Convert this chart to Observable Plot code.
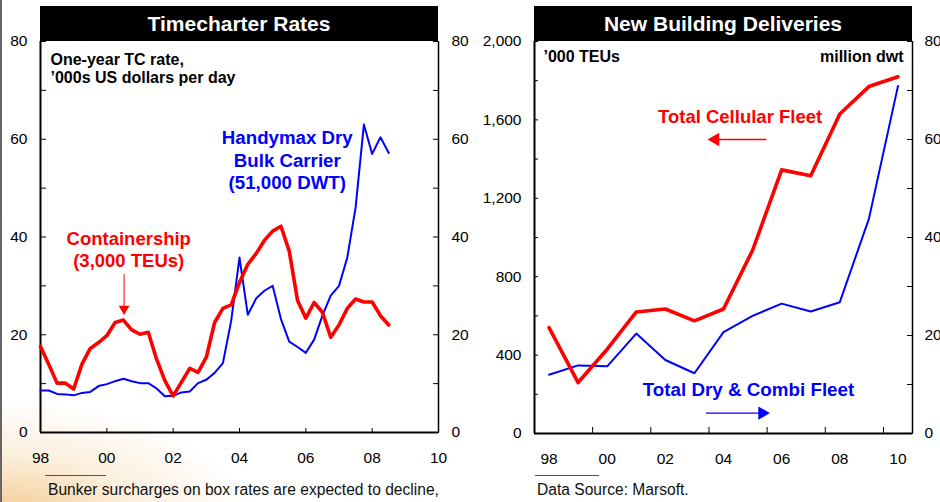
<!DOCTYPE html>
<html>
<head>
<meta charset="utf-8">
<script src="https://cdn.jsdelivr.net/npm/d3@7"></script>
<script src="https://cdn.jsdelivr.net/npm/@observablehq/plot@0.6"></script>
<style>
html, body { margin: 0; padding: 0; background: #fff; }
#wrap {
  position: relative; width: 940px; height: 502px; overflow: hidden;
  font-family: "Liberation Sans", Arial, sans-serif;
  background:
    radial-gradient(ellipse 250px 120px at 0px 520px, rgba(242,190,120,0.85), rgba(248,220,180,0.45) 55%, rgba(255,255,255,0) 100%),
    #fff;
}
.edge { position: absolute; left: 0; top: 0; width: 2px; height: 502px; background: #666; }
.panel { position: absolute; top: 0; }
.bar {
  position: absolute; top: 6px; height: 35px; background: #000; color: #fff;
  font-weight: bold; font-size: 21px; line-height: 36px; text-align: center;
}
.rule { position: absolute; top: 475px; height: 1px; background: #555; }
.foot { position: absolute; top: 481px; font-size: 15.6px; line-height: 18px; color: #111; white-space: nowrap; }
</style>
</head>
<body>
<div id="wrap">
  <div class="edge"></div>
  <div id="left" class="panel" style="left:0"></div>
  <div id="right" class="panel" style="left:470px"></div>
  <div class="bar" style="left:40px;width:398px">Timecharter Rates</div>
  <div class="bar" style="left:534px;width:378px">New Building Deliveries</div>
  <div class="rule" style="left:45px;width:61px"></div>
  <div class="rule" style="left:535px;width:64px"></div>
  <div class="foot" style="left:48px">Bunker surcharges on box rates are expected to decline,</div>
  <div class="foot" style="left:537px">Data Source: Marsoft.</div>
</div>
<script>
// ---------- Left panel data: quarterly one-year TC rates ('000 US$/day) ----------
const tcQuarters = [
  1998.00, 1998.25, 1998.50, 1998.75, 1999.00, 1999.25, 1999.50, 1999.75,
  2000.00, 2000.25, 2000.50, 2000.75, 2001.00, 2001.25, 2001.50, 2001.75,
  2002.00, 2002.25, 2002.50, 2002.75, 2003.00, 2003.25, 2003.50, 2003.75,
  2004.00, 2004.25, 2004.50, 2004.75, 2005.00, 2005.25, 2005.50, 2005.75,
  2006.00, 2006.25, 2006.50, 2006.75, 2007.00, 2007.25, 2007.50, 2007.75,
  2008.00, 2008.25, 2008.50
];
const containership = [
  17.6, 13.9, 10.1, 10.1, 8.9, 14.0, 17.2, 18.4,
  19.8, 22.5, 23.0, 21.0, 20.1, 20.5, 15.0, 10.6,
  7.5, 10.3, 13.1, 12.3, 15.4, 22.5, 25.4, 26.1,
  30.7, 34.4, 36.6, 39.3, 41.2, 42.2, 37.1, 27.0,
  23.4, 26.6, 24.6, 19.5, 22.0, 25.4, 27.3, 26.7,
  26.7, 23.9, 22.0
];
const handymax = [
  8.6, 8.6, 7.9, 7.8, 7.6, 8.1, 8.3, 9.5,
  9.9, 10.5, 11.0, 10.5, 10.1, 10.1, 9.0, 7.4,
  7.5, 8.2, 8.4, 10.1, 10.8, 12.2, 14.2, 22.9,
  35.8, 24.1, 27.4, 29.0, 30.0, 23.2, 18.6, 17.5,
  16.3, 19.0, 23.9, 28.0, 30.0, 35.8, 46.0, 63.0,
  57.0, 60.4, 57.2
];

// ---------- Right panel data: annual new building deliveries ----------
const deliveryYears = [1998, 1999, 2000, 2001, 2002, 2003, 2004, 2005, 2006, 2007, 2008, 2009, 2010];
const cellularTEU = [540, 260, 430, 620, 635, 575, 635, 935, 1345, 1315, 1630, 1770, 1820]; // '000 TEUs
const dryCombiDwt = [12.0, 13.9, 13.7, 20.4, 15.0, 12.3, 20.7, 24.0, 26.5, 24.9, 26.8, 43.8, 70.9]; // million dwt

// ---------- Tick values and labels ----------
const evenYears = [1998, 2000, 2002, 2004, 2006, 2008, 2010];
const yearTickLabels = ["98", "00", "02", "04", "06", "08", "10"];
const tcTicks = [0, 10, 20, 30, 40, 50, 60, 70, 80];
const tcLabelTicks = [0, 20, 40, 60, 80];
const teuTicks = [0, 200, 400, 600, 800, 1000, 1200, 1400, 1600, 1800, 2000];
const teuLabelTicks = [0, 400, 800, 1200, 1600, 2000];
const dwtTicks = [0, 10, 20, 30, 40, 50, 60, 70, 80];
const dwtLabelTicks = [0, 20, 40, 60, 80];
const teuPerDwt = 2000 / 80; // right axis scale factor (80 million dwt = 2,000 '000 TEUs)

const RED = "#ff0000", BLUE = "#0000ff";
const font = '"Liberation Sans", Arial, sans-serif';
const style = { fontFamily: font, fontSize: "15.5px", color: "#000", background: "transparent", overflow: "visible" };
const yearLabel = d => yearTickLabels[evenYears.indexOf(Math.floor(d))];

const tc = tcQuarters.map((t, i) => ({ t, c: containership[i], h: handymax[i] }));
const nb = deliveryYears.map((yr, i) => ({ t: yr + 0.5, teu: cellularTEU[i], dwt: dryCombiDwt[i] }));

// ---------- Left chart ----------
const leftChart = Plot.plot({
  width: 470, height: 470,
  marginLeft: 40, marginRight: 32, marginTop: 41, marginBottom: 38,
  x: { domain: [1998, 2010] },
  y: { domain: [0, 80] },
  style,
  marks: [
    Plot.axisY({ anchor: "left", ticks: tcTicks, tickSize: -6, tickFormat: () => "", label: null }),
    Plot.axisY({ anchor: "left", ticks: tcLabelTicks, tickSize: 0, tickPadding: 13, label: null }),
    Plot.axisY({ anchor: "right", ticks: tcTicks, tickSize: -6, tickFormat: () => "", label: null }),
    Plot.axisY({ anchor: "right", ticks: tcLabelTicks, tickSize: 0, tickPadding: 13, label: null }),
    Plot.axisX({ ticks: evenYears, tickSize: -4, tickFormat: () => "", label: null }),
    Plot.axisX({ ticks: evenYears, tickSize: 0, tickPadding: 19, tickFormat: yearLabel, label: null }),
    Plot.ruleY([0], { strokeWidth: 2 }),
    Plot.ruleX([1998], { strokeWidth: 2 }),
    Plot.ruleX([2010], { strokeWidth: 1.5 }),
    Plot.line(tc, { x: "t", y: "h", stroke: BLUE, strokeWidth: 2 }),
    Plot.line(tc, { x: "t", y: "c", stroke: RED, strokeWidth: 3.6 }),
    Plot.text(["One-year TC rate,\n\u2019000s US dollars per day"], {
      frameAnchor: "top-left", dx: 10, dy: 11, textAnchor: "start", lineAnchor: "top",
      fontWeight: "bold", fontSize: 16, lineHeight: 1.13, fill: "#000"
    }),
    Plot.text(["Handymax Dry\nBulk Carrier\n(51,000 DWT)"], {
      x: 2005.44, y: 62.2, lineAnchor: "top", fontWeight: "bold", fontSize: 18.7, lineHeight: 1.19, fill: BLUE
    }),
    Plot.text(["Containership\n(3,000 TEUs)"], {
      x: 2000.66, y: 41.7, lineAnchor: "top", fontWeight: "bold", fontSize: 18.5, lineHeight: 1.22, fill: RED
    }),
    Plot.link([{ x: 2000.52, y1: 32.4, y2: 25.6 }], { x1: "x", x2: "x", y1: "y1", y2: "y2", stroke: RED, strokeWidth: 1 }),
    Plot.dot([{ x: 2000.52, y: 25.3 }], { x: "x", y: "y", symbol: "triangle", rotate: 180, r: 4, fill: RED, stroke: "none" })
  ]
});
document.getElementById("left").append(leftChart);

// ---------- Right chart ----------
const rightChart = Plot.plot({
  width: 470, height: 470,
  marginLeft: 64, marginRight: 28, marginTop: 41, marginBottom: 37,
  x: { domain: [1998, 2011] },
  y: { domain: [0, 2000] },
  style,
  marks: [
    Plot.axisY({ anchor: "left", ticks: teuTicks, tickSize: -4, tickFormat: () => "", label: null }),
    Plot.axisY({ anchor: "left", ticks: teuLabelTicks, tickSize: 0, tickPadding: 13, tickFormat: d3.format(","), label: null }),
    Plot.axisY({ anchor: "right", ticks: dwtTicks.map(v => v * teuPerDwt), tickSize: -6, tickFormat: () => "", label: null }),
    Plot.axisY({ anchor: "right", ticks: dwtLabelTicks.map(v => v * teuPerDwt), tickSize: 0, tickPadding: 12, tickFormat: d => d / teuPerDwt, label: null }),
    Plot.axisX({ ticks: evenYears, tickSize: -6, tickFormat: () => "", label: null }),
    Plot.axisX({ ticks: evenYears.map(y => y + 0.5), tickSize: 0, tickPadding: 19, tickFormat: yearLabel, label: null }),
    Plot.ruleY([0], { strokeWidth: 2.2 }),
    Plot.ruleX([1998], { strokeWidth: 2 }),
    Plot.ruleX([2011], { strokeWidth: 1.5 }),
    Plot.line(nb, { x: "t", y: d => d.dwt * teuPerDwt, stroke: BLUE, strokeWidth: 2 }),
    Plot.line(nb, { x: "t", y: "teu", stroke: RED, strokeWidth: 3.6 }),
    Plot.text(["\u2019000 TEUs"], {
      frameAnchor: "top-left", dx: 9, dy: 9, textAnchor: "start", lineAnchor: "top",
      fontWeight: "bold", fontSize: 16, fill: "#000"
    }),
    Plot.text(["million dwt"], {
      frameAnchor: "top-right", dx: -9, dy: 9, textAnchor: "end", lineAnchor: "top",
      fontWeight: "bold", fontSize: 16, fill: "#000"
    }),
    Plot.text(["Total Cellular Fleet"], {
      x: 2005.07, y: 1650, lineAnchor: "top", fontWeight: "bold", fontSize: 18.5, fill: RED
    }),
    Plot.link([{ x1: 2005.98, x2: 2004.3, y: 1500 }], { x1: "x1", x2: "x2", y1: "y", y2: "y", stroke: RED, strokeWidth: 1.3 }),
    Plot.dot([{ x: 2004.22, y: 1500 }], { x: "x", y: "y", symbol: "triangle", rotate: -90, r: 5, fill: RED, stroke: "none" }),
    Plot.text(["Total Dry & Combi Fleet"], {
      x: 2005.36, y: 261, lineAnchor: "top", fontWeight: "bold", fontSize: 18.8, fill: BLUE
    }),
    Plot.link([{ x1: 2003.9, x2: 2005.75, y: 104 }], { x1: "x1", x2: "x2", y1: "y", y2: "y", stroke: BLUE, strokeWidth: 1.3 }),
    Plot.dot([{ x: 2005.83, y: 104 }], { x: "x", y: "y", symbol: "triangle", rotate: 90, r: 5, fill: BLUE, stroke: "none" })
  ]
});
document.getElementById("right").append(rightChart);
</script>
</body>
</html>
